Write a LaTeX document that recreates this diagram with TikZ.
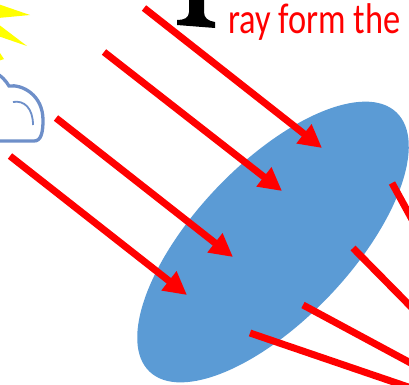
\documentclass[tikz,border=0pt]{standalone}
\usepackage{fontspec}
\usetikzlibrary{shapes.geometric, arrows.meta, positioning}
\newfontfamily\labelfont[FakeStretch=0.8]{Carlito}
\definecolor{lensblue}{RGB}{91,155,213}
\definecolor{cloudblue}{RGB}{110,143,201}
\definecolor{sunyellow}{RGB}{255,255,0}
\tikzstyle{lens} = [ellipse, fill=lensblue, inner sep=0pt,
	minimum width=358pt, minimum height=156pt, rotate=46.4]
\tikzstyle{ray-in} = [red, line width=7pt, -{Triangle[length=23pt, width=23pt]}]
\tikzstyle{ray-out} = [red, line width=7pt]

\begin{document}
\begin{tikzpicture}[x=1pt, y=-1pt]
	\useasboundingbox (0,0) rectangle (409,384);
	\clip (0,0) rectangle (409,384);

	% set up sun rays
	\fill [sunyellow] (-2,4) -- (30,15) -- (-2,18) -- cycle;
	\fill [sunyellow] (-2,24) -- (27,46) -- (-2,36) -- cycle;
	\fill [sunyellow] (-2,50) -- (4,59) -- (-2,61) -- cycle;

	% set up cloud
	\filldraw [fill=white, draw=cloudblue, line width=3.3pt]
		(-6,72) .. controls (2,76) and (6,81) .. (9,86)
		.. controls (22,84) and (43,95) .. (43,120)
		.. controls (43,133) and (41,141) .. (34,141) -- (-6,141);
	\draw [cloudblue, line width=1.8pt] (13,102) .. controls (24,100) and (33,108) .. (33,125);

	% set up letter foot
	\fill [black] (189,-2) -- (189,12) .. controls (189,18) and (184,20) .. (177,20)
		-- (177,25) -- (215,28) -- (215,22) .. controls (208,21) and (204,18) .. (204,12)
		-- (204,-2) -- cycle;
	\node (title) [anchor=base west, text=red, inner sep=0pt,
		font=\labelfont\fontsize{43}{43}\selectfont] at (228,33) {ray form the};

	% set up lens
	\node (lens) [lens] at (273,242) {};

	% set up ray ends
	\coordinate (in1-s) at (144,8);
	\coordinate (in1-e) at (322,148);
	\coordinate (in2-s) at (104,52);
	\coordinate (in2-e) at (282,191);
	\coordinate (in3-s) at (56,118);
	\coordinate (in3-e) at (233,257);
	\coordinate (in4-s) at (10,156);
	\coordinate (in4-e) at (187,295);
	\coordinate (out1-s) at (392,183);
	\coordinate (out1-e) at (420,234);
	\coordinate (out2-s) at (353,248);
	\coordinate (out2-e) at (420,316);
	\coordinate (out3-s) at (303,305);
	\coordinate (out3-e) at (420,368);
	\coordinate (out4-s) at (250,333);
	\coordinate (out4-e) at (420,391);

	% set up incoming and outgoing rays
	\draw [ray-in] (in1-s) -- (in1-e);
	\draw [ray-in] (in2-s) -- (in2-e);
	\draw [ray-in] (in3-s) -- (in3-e);
	\draw [ray-in] (in4-s) -- (in4-e);
	\draw [ray-out] (out1-s) -- (out1-e);
	\draw [ray-out] (out2-s) -- (out2-e);
	\draw [ray-out] (out3-s) -- (out3-e);
	\draw [ray-out] (out4-s) -- (out4-e);

\end{tikzpicture}
\end{document}
